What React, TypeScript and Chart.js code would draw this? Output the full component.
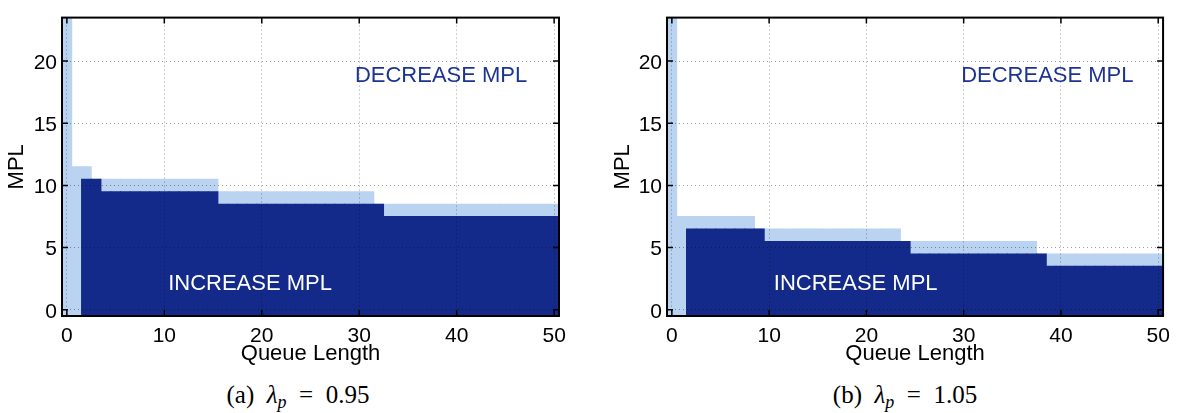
import { useEffect, useRef } from "react";
import { Chart, registerables } from "chart.js";

Chart.register(...registerables);

// One column per queue length, one cell per MPL level.
const queueLength = [
  0, 1, 2, 3, 4, 5, 6, 7, 8, 9, 10, 11, 12, 13, 14, 15, 16, 17, 18, 19, 20, 21, 22, 23, 24, 25,
  26, 27, 28, 29, 30, 31, 32, 33, 34, 35, 36, 37, 38, 39, 40, 41, 42, 43, 44, 45, 46, 47, 48, 49, 50,
];

// (a) λp = 0.95 — highest MPL level in the INCREASE region (null: none)
const increaseTopA = [
  null, null, 10, 10, 9, 9, 9, 9, 9, 9, 9, 9, 9, 9, 9, 9, 8, 8, 8, 8, 8, 8, 8, 8, 8, 8,
  8, 8, 8, 8, 8, 8, 8, 7, 7, 7, 7, 7, 7, 7, 7, 7, 7, 7, 7, 7, 7, 7, 7, 7, 7,
];
// (a) highest MPL level that is kept unchanged
const holdTopA = [
  23, 11, 11, 10, 10, 10, 10, 10, 10, 10, 10, 10, 10, 10, 10, 10, 9, 9, 9, 9, 9, 9, 9, 9, 9, 9,
  9, 9, 9, 9, 9, 9, 8, 8, 8, 8, 8, 8, 8, 8, 8, 8, 8, 8, 8, 8, 8, 8, 8, 8, 8,
];

// (b) λp = 1.05
const increaseTopB = [
  null, null, 6, 6, 6, 6, 6, 6, 6, 6, 5, 5, 5, 5, 5, 5, 5, 5, 5, 5, 5, 5, 5, 5, 5, 4,
  4, 4, 4, 4, 4, 4, 4, 4, 4, 4, 4, 4, 4, 3, 3, 3, 3, 3, 3, 3, 3, 3, 3, 3, 3,
];
const holdTopB = [
  23, 7, 7, 7, 7, 7, 7, 7, 7, 6, 6, 6, 6, 6, 6, 6, 6, 6, 6, 6, 6, 6, 6, 6, 5, 5,
  5, 5, 5, 5, 5, 5, 5, 5, 5, 5, 5, 5, 4, 4, 4, 4, 4, 4, 4, 4, 4, 4, 4, 4, 4,
];

const queueTicks = [0, 10, 20, 30, 40, 50];
const mplTicks = [0, 5, 10, 15, 20];
const QUEUE_RANGE = [-0.5, 50.5];
const MPL_RANGE = [-0.5, 23.5];

const DARK = "#142a8a";
const LIGHT = "#b9d3f1";
const GRID = "rgba(0,0,0,0.38)";
const SANS = '"Liberation Sans", Arial, Helvetica, sans-serif';

type RegionLabel = { text: string; q: number; mpl: number; color: string };

const labelsA: RegionLabel[] = [
  { text: "DECREASE MPL", q: 38.4, mpl: 18.8, color: "#1d3391" },
  { text: "INCREASE MPL", q: 18.8, mpl: 2.1, color: "#ffffff" },
];
const labelsB: RegionLabel[] = [
  { text: "DECREASE MPL", q: 38.6, mpl: 18.8, color: "#1d3391" },
  { text: "INCREASE MPL", q: 18.9, mpl: 2.1, color: "#ffffff" },
];

// Box around the plot with inward tick marks, plus the region captions.
const framePlugin = {
  id: "frameAndRegions",
  afterDraw(chart: any) {
    const { ctx, chartArea: a, scales } = chart;
    ctx.save();
    const tl = 6;
    ctx.strokeStyle = "#000";
    ctx.lineWidth = 1.5;
    ctx.beginPath();
    for (const t of scales.x.ticks) {
      const px = scales.x.getPixelForValue(t.value);
      ctx.moveTo(px, a.bottom);
      ctx.lineTo(px, a.bottom - tl);
      ctx.moveTo(px, a.top);
      ctx.lineTo(px, a.top + tl);
    }
    for (const t of scales.y.ticks) {
      const py = scales.y.getPixelForValue(t.value);
      ctx.moveTo(a.left, py);
      ctx.lineTo(a.left + tl, py);
      ctx.moveTo(a.right, py);
      ctx.lineTo(a.right - tl, py);
    }
    ctx.stroke();
    ctx.lineWidth = 2;
    ctx.strokeRect(a.left, a.top, a.right - a.left, a.bottom - a.top);

    const items: RegionLabel[] = chart.options.plugins.frameAndRegions?.labels || [];
    ctx.font = `22px ${SANS}`;
    ctx.textAlign = "center";
    ctx.textBaseline = "middle";
    for (const it of items) {
      ctx.fillStyle = it.color;
      ctx.fillText(it.text, scales.x.getPixelForValue(it.q), scales.y.getPixelForValue(it.mpl));
    }
    ctx.restore();
  },
};

type PanelProps = {
  left: number;
  yAxisWidth: number;
  padRight: number;
  titlePad: number;
  increaseTop: (number | null)[];
  holdTop: number[];
  labels: RegionLabel[];
};

const PANEL_W = 589;
const PANEL_H = 370;

function Panel({ left, yAxisWidth, padRight, titlePad, increaseTop, holdTop, labels }: PanelProps) {
  const ref = useRef<HTMLCanvasElement>(null);
  useEffect(() => {
    if (!ref.current) return;
    const tickFont = { family: SANS, size: 21 };
    const titleFont = { family: SANS, size: 22 };
    const cell = {
      borderWidth: 0,
      barPercentage: 1,
      categoryPercentage: 1,
      grouped: false,
      inflateAmount: 0.45,
    };
    const chart = new Chart(ref.current, {
      type: "bar",
      data: {
        datasets: [
          {
            label: "INCREASE MPL",
            data: queueLength.map((q, i) => ({
              x: q,
              y: increaseTop[i] === null ? null : [MPL_RANGE[0], (increaseTop[i] as number) + 0.5],
            })),
            backgroundColor: DARK,
            ...cell,
          } as any,
          {
            label: "HOLD",
            data: queueLength.map((q, i) => ({ x: q, y: [MPL_RANGE[0], holdTop[i] + 0.5] })),
            backgroundColor: LIGHT,
            ...cell,
          } as any,
        ],
      },
      options: {
        responsive: false,
        animation: false,
        devicePixelRatio: 1,
        layout: { padding: { top: 6, right: padRight, bottom: 0, left: 0 } },
        plugins: {
          legend: { display: false },
          tooltip: { enabled: false },
          frameAndRegions: { labels },
        } as any,
        scales: {
          x: {
            type: "linear",
            offset: false,
            min: QUEUE_RANGE[0],
            max: QUEUE_RANGE[1],
            afterBuildTicks: (s: any) => {
              s.ticks = queueTicks.map((v) => ({ value: v }));
            },
            afterFit: (s: any) => {
              s.height = 54;
            },
            grid: { color: GRID, lineWidth: 1, drawTicks: false, offset: false, z: 1 },
            border: { display: false, dash: [1, 3] },
            ticks: { color: "#000", font: tickFont, padding: 8, maxRotation: 0 },
            title: {
              display: true,
              text: "Queue Length",
              color: "#000",
              font: titleFont,
              padding: { top: 0, bottom: 3 },
            },
          },
          y: {
            type: "linear",
            min: MPL_RANGE[0],
            max: MPL_RANGE[1],
            afterBuildTicks: (s: any) => {
              s.ticks = mplTicks.map((v) => ({ value: v }));
            },
            afterFit: (s: any) => {
              s.width = yAxisWidth;
            },
            grid: { color: GRID, lineWidth: 1, drawTicks: false, z: 1 },
            border: { display: false, dash: [1, 3] },
            ticks: { color: "#000", font: tickFont, padding: 5, labelOffset: 2 },
            title: {
              display: true,
              text: "MPL",
              color: "#000",
              font: titleFont,
              padding: { top: titlePad, bottom: 0 },
            },
          },
        },
      } as any,
      plugins: [framePlugin],
    });
    return () => chart.destroy();
  }, []);
  return (
    <canvas
      ref={ref}
      width={PANEL_W}
      height={PANEL_H}
      style={{ position: "absolute", left, top: 0, width: PANEL_W, height: PANEL_H }}
    />
  );
}

function Caption({ center, tag, value }: { center: number; tag: string; value: string }) {
  return (
    <div
      style={{
        position: "absolute",
        left: center - 150,
        top: 381,
        width: 300,
        textAlign: "center",
        fontFamily: '"Liberation Serif", "Times New Roman", serif',
        fontSize: 25,
        lineHeight: "28px",
        color: "#000",
        whiteSpace: "nowrap",
      }}
    >
      ({tag})&nbsp;&nbsp;<i>λ</i>
      <sub style={{ fontSize: "0.72em", verticalAlign: "-0.3em", lineHeight: 0 }}>
        <i>p</i>
      </sub>
      &nbsp;&nbsp;=&nbsp;&nbsp;{value}
    </div>
  );
}

export default function App() {
  useEffect(() => {
    document.body.style.margin = "0";
  }, []);
  return (
    <div style={{ position: "relative", width: 1178, height: 413, background: "#fff", overflow: "hidden" }}>
      <Panel
        left={0}
        yAxisWidth={62}
        padRight={30}
        titlePad={4}
        increaseTop={increaseTopA}
        holdTop={holdTopA}
        labels={labelsA}
      />
      <Panel
        left={589}
        yAxisWidth={78}
        padRight={12}
        titlePad={21}
        increaseTop={increaseTopB}
        holdTop={holdTopB}
        labels={labelsB}
      />
      <Caption center={298} tag="a" value="0.95" />
      <Caption center={905} tag="b" value="1.05" />
    </div>
  );
}
